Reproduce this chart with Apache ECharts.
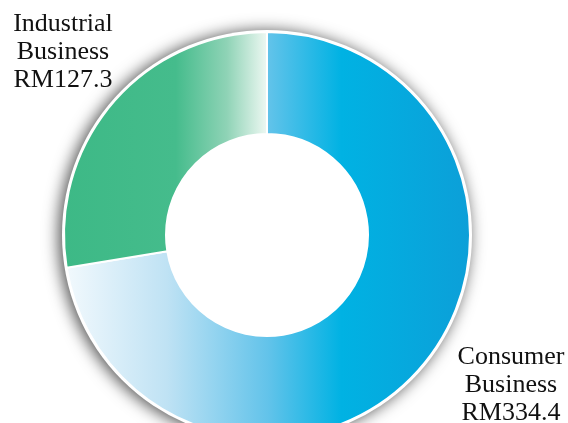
<!DOCTYPE html>
<html><head><meta charset="utf-8">
<script src="https://cdn.jsdelivr.net/npm/echarts@6/dist/echarts.min.js"></script>
<style>html,body{margin:0;padding:0;background:#fff}#c{width:568px;height:423px}</style>
</head><body><div id="c"></div>
<script>
const categories = ['Consumer\nBusiness', 'Industrial\nBusiness'];
const values = [334.4, 127.3];
const valueLabels = ['RM334.4', 'RM127.3'];

const grads = [
  new echarts.graphic.LinearGradient(0, 0, 1, 0, [
    {offset: 0, color: '#f2f9fd'},
    {offset: 0.25, color: '#bfe2f4'},
    {offset: 0.5, color: '#62c3ea'},
    {offset: 0.68, color: '#00b2e3'},
    {offset: 1, color: '#0c9fd8'}
  ]),
  new echarts.graphic.LinearGradient(0, 0, 1, 0, [
    {offset: 0, color: '#3db986'},
    {offset: 0.55, color: '#45bc8c'},
    {offset: 0.8, color: '#8fd3b6'},
    {offset: 1, color: '#f0f9f4'}
  ])
];
const labelPos = [[511, 385], [63, 52]];

const chart = echarts.init(document.getElementById('c'), null, {renderer: 'canvas'});
chart.setOption({
  animation: false,
  series: [
    {
      type: 'pie', silent: true, center: [267, 235], radius: [0, 205],
      label: {show: false}, labelLine: {show: false},
      itemStyle: {color: '#ffffff', shadowBlur: 16, shadowColor: 'rgba(0,0,0,0.7)', shadowOffsetX: -3, shadowOffsetY: 1},
      data: [{value: 1}], z: 1
    },
    {
      type: 'pie', center: [267, 235], radius: [101, 203], startAngle: 90, clockwise: true,
      z: 2,
      itemStyle: {borderColor: '#ffffff', borderWidth: 2},
      label: {
        show: true, position: 'outside', color: '#111111',
        fontFamily: 'Liberation Serif', fontSize: 26, lineHeight: 28, align: 'center',
        width: 200, overflow: 'none',
        formatter: p => p.name + '\n' + valueLabels[p.dataIndex]
      },
      labelLine: {show: false},
      labelLayout: p => ({x: labelPos[p.dataIndex][0], y: labelPos[p.dataIndex][1], align: 'center', verticalAlign: 'middle', hideOverlap: false}),
      data: categories.map((c, i) => ({name: c, value: values[i], itemStyle: {color: grads[i]}}))
    }
  ]
});
</script></body></html>
